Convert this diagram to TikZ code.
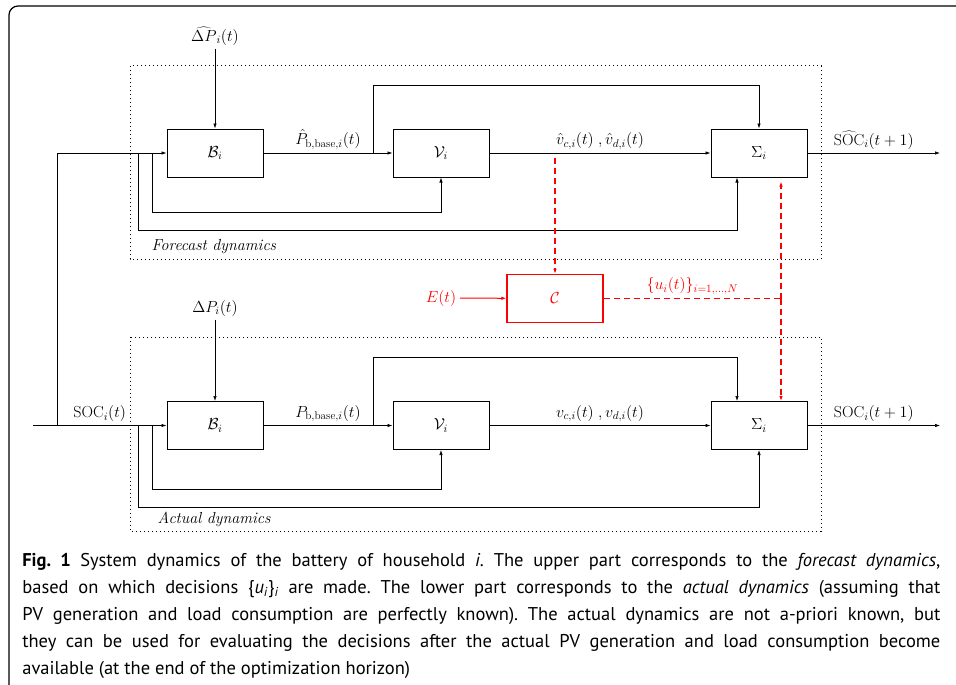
\RequirePackage{fix-cm}
\documentclass[tikz,border=0pt]{standalone}
\usepackage{fontspec}
\newfontfamily\capfont{PT Sans}
\usetikzlibrary{arrows.meta,calc}

\tikzset{
    block/.style={draw, line width=1pt, minimum width=96pt, minimum height=48pt},
    ctrl/.style={red, line width=1.2pt, dash pattern=on 6pt off 4pt},
    dyn/.style={line width=1pt, dash pattern=on 1pt off 3pt},
    >={Latex[length=5pt,width=3.5pt]}
}

\begin{document}
\begin{tikzpicture}[x=1pt, y=-1pt, font=\fontsize{16}{19}\selectfont, line width=0.7pt]
    \useasboundingbox (0,0) rectangle (956,685);
    \draw[line width=1.2pt, rounded corners=9pt] (960,6) -- (9,6) -- (9,690);

    \draw[dyn] (130,66) rectangle (821,259);
    \draw[dyn] (130,337) rectangle (821,531);
    \node[anchor=west] (fclab) at (148,247) {\textit{Forecast dynamics}};
    \node[anchor=west] (aclab) at (154,519) {\textit{Actual dynamics}};

    \node[block] (Bf) at (215,153) {$\mathcal{B}_i$};
    \node[block] (Vf) at (441,153) {$\mathcal{V}_i$};
    \node[block] (Sf) at (759,153) {$\Sigma_i$};
    \node (dPf) at (215,36) {$\widehat{\Delta P}_i(t)$};
    \coordinate (outf) at (940,153);
    \draw[->] (dPf) -- (Bf);
    \draw[->] (Bf) -- node[above] {$\hat{P}_{\mathrm{b,base},i}(t)$} (Vf);
    \draw[->] (Vf) -- node[above] {$\hat{v}_{c,i}(t)\;,\hat{v}_{d,i}(t)$} (Sf);
    \draw[->] (Sf) -- node[above] {$\widehat{\mathrm{SOC}}_i(t+1)$} (outf);
    \coordinate (brf) at (373,153);
    \coordinate (tf1) at (152,153);
    \coordinate (tf2) at (138,153);
    \draw[->] (brf) -- ++(0,-68) -| (Sf.north);
    \draw[->] (tf1) -- ++(0,59) -| (Vf.south);
    \draw[->] (tf2) -- ++(0,77) -| ($(Sf.south)+(-22,0)$);

    \node[block] (Ba) at (215,425.5) {$\mathcal{B}_i$};
    \node[block] (Va) at (441,425.5) {$\mathcal{V}_i$};
    \node[block] (Sa) at (759,425.5) {$\Sigma_i$};
    \node (dPa) at (215,308) {$\Delta P_i(t)$};
    \coordinate (outa) at (940,425.5);
    \coordinate (inA) at (33,425.5);
    \coordinate (jn) at (57,425.5);
    \draw[->] (dPa) -- (Ba);
    \draw[->] (inA) -- node[above] {$\mathrm{SOC}_i(t)$} (Ba);
    \draw[->] (jn) |- (Bf);
    \draw[->] (Ba) -- node[above] {$P_{\mathrm{b,base},i}(t)$} (Va);
    \draw[->] (Va) -- node[above] {$v_{c,i}(t)\;,v_{d,i}(t)$} (Sa);
    \draw[->] (Sa) -- node[above] {$\mathrm{SOC}_i(t+1)$} (outa);
    \coordinate (bra) at (373,425.5);
    \coordinate (ta1) at (152,425.5);
    \coordinate (ta2) at (138,425.5);
    \draw[->] (bra) -- ++(0,-68) -| ($(Sa.north)+(-22,0)$);
    \draw[->] (ta1) -- ++(0,63.5) -| (Va.south);
    \draw[->] (ta2) -- ++(0,82) -| (Sa.south);

    \node[block, red, line width=1.3pt] (C) at (555,298.5) {$\mathcal{C}$};
    \node[red] (E) at (441,298) {$E(t)$};
    \coordinate (vt) at (555,158);
    \coordinate (uj) at (781,298.5);
    \draw[->, red, line width=1pt] (E) -- (C);
    \draw[ctrl, ->] (vt) -- (C);
    \draw[ctrl] (C) -- node[above] {$\{u_i(t)\}_{i=1,\dots,N}$} (uj);
    \draw[ctrl, ->, shorten >=4pt] (uj) -- (uj |- Sf.south);
    \draw[ctrl, ->] (uj) -- (uj |- Sa.north);

    \node[anchor=north west, text width=918pt, align=justify, inner sep=0pt,
          font=\capfont\fontsize{18.5}{27}\selectfont] (cap) at (22,553)
        {\frenchspacing\hyphenpenalty=10000
         \textbf{Fig.\ 1}\enskip System dynamics of the battery of household \textit{i}. The upper part corresponds to the \textit{forecast dynamics},\linebreak
         based on which decisions \{\textit{u}\textsubscript{\textit{i}}\}\textsubscript{\textit{i}} are made. The lower part corresponds to the \textit{actual dynamics} (assuming that\linebreak
         PV generation and load consumption are perfectly known). The actual dynamics are not a-priori known, but\linebreak
         they can be used for evaluating the decisions after the actual PV generation and load consumption become\linebreak
         available (at the end of the optimization horizon)};
\end{tikzpicture}
\end{document}
